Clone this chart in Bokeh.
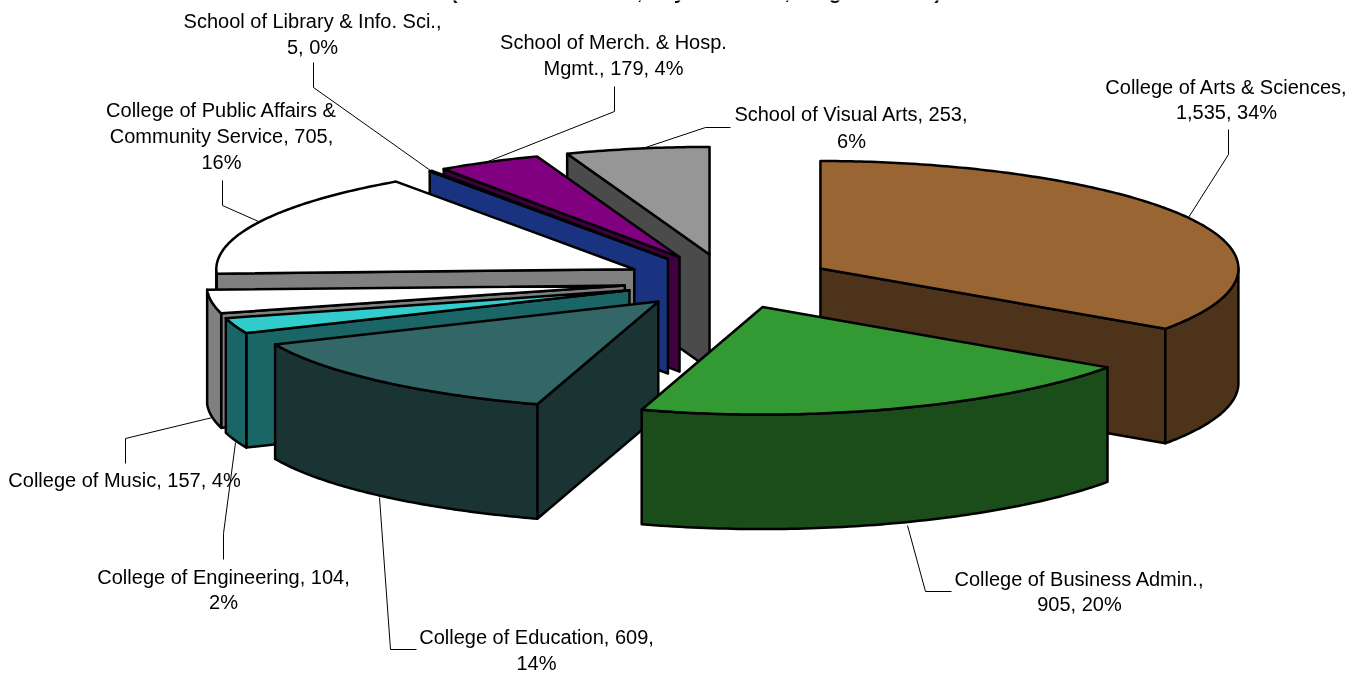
import numpy as np
from bokeh.plotting import figure
from bokeh.models import Range1d, ColumnDataSource
from bokeh.embed import file_html
from bokeh.resources import INLINE
from bokeh.core.properties import value

# ---- data (clockwise from 12 o'clock) ----
names = ["College of Arts & Sciences", "College of Business Admin.", "College of Education",
         "College of Engineering", "College of Music", "College of Public Affairs & Community Service",
         "School of Library & Info. Sci.", "School of Merch. & Hosp. Mgmt.", "School of Visual Arts"]
counts = [1535, 905, 609, 104, 157, 705, 5, 179, 253]
top_colors = ["#996633", "#339933", "#336666", "#33CCCC", "#FFFFFF", "#FFFFFF", "#3366FF", "#800080", "#969696"]
side_colors = ["#4D3319", "#1A4D1A", "#1A3333", "#1A6666", "#808080", "#808080", "#1A3380", "#400040", "#4B4B4B"]
draw_order = [8, 7, 6, 5, 0, 4, 3, 2, 1]

label_lines = [
    ["College of Arts & Sciences,", "1,535, 34%"],
    ["College of Business Admin.,", "905, 20%"],
    ["College of Education, 609,", "14%"],
    ["College of Engineering, 104,", "2%"],
    ["College of Music, 157, 4%"],
    ["College of Public Affairs &", "Community Service, 705,", "16%"],
    ["School of Library & Info. Sci.,", "5, 0%"],
    ["School of Merch. & Hosp.", "Mgmt., 179, 4%"],
    ["School of Visual Arts, 253,", "6%"],
]
title = "(Full-Time Students, Any Year Total, Program Level)"

# ---- layout ----
W, H = 1362, 673
CX, CY = 727.6, 280.8        # pie centre
A, B = 418.0, 107.5          # rim half-axes
RIM_SQUEEZE = 0.033          # small horizontal narrowing of the rim near the vertical axis
DEPTH = 114.5                # extrusion
EX, EY = 104.5, 27.3         # explosion half-axes
label_pos = [(1226, [86, 111]), (1079, [578, 603]), (536, [636, 662]), (223, [576, 601]),
             (124, [479]), (221, [109, 135, 161]), (312, [20, 46]), (613, [41, 67]), (851, [113, 140])]
leaders = [
    [(1228, 129), (1228, 154), (1188, 217)],
    [(951, 591), (925, 591), (907, 525)],
    [(416, 649), (390, 649), (379, 497)],
    [(223, 559), (223, 533), (235, 442)],
    [(125, 463), (125, 438), (212, 417)],
    [(222, 180), (222, 205), (258, 221)],
    [(313, 62), (313, 87), (430, 170)],
    [(614, 86), (614, 111), (485, 162)],
    [(730, 127), (705, 127), (642, 148)],
]
FONT = "Liberation Sans"
FS = "20px"

# ---- geometry derived from the values ----
total = sum(counts)
edges = np.cumsum([0] + counts) / total * 2 * np.pi


def rim(ax, ay, t):
    return ax + A * np.sin(t) * (1 - RIM_SQUEEZE * np.cos(t) ** 4), ay - B * np.cos(t)


fx, fy, fc = [], [], []


def face(xs, ys, c):
    fx.append(list(xs))
    fy.append(list(ys))
    fc.append(c)


for i in draw_order:
    t1, t2 = edges[i], edges[i + 1]
    mid = (t1 + t2) / 2
    ax, ay = CX + EX * np.sin(mid), CY - EY * np.cos(mid)
    # cut faces
    for t, vis in ((t1, np.sin(t1) < -1e-6), (t2, np.sin(t2) > 1e-6)):
        if vis:
            rx, ry = rim(ax, ay, t)
            face([ax, rx, rx, ax], [ay, ry, ry + DEPTH, ay + DEPTH], side_colors[i])
    # outer wall (front half only)
    lo, hi = max(t1, np.pi / 2), min(t2, 3 * np.pi / 2)
    if hi > lo:
        ts = np.linspace(lo, hi, 80)
        rx, ry = rim(ax, ay, ts)
        face(np.r_[rx, rx[::-1]], np.r_[ry, (ry + DEPTH)[::-1]], side_colors[i])
    # top
    ts = np.linspace(t1, t2, max(3, int((t2 - t1) * 80)))
    rx, ry = rim(ax, ay, ts)
    face(np.r_[ax, rx], np.r_[ay, ry], top_colors[i])

# ---- figure ----
p = figure(width=W, height=H, output_backend="svg", toolbar_location=None,
           x_range=Range1d(0, W), y_range=Range1d(H, 0), min_border=0,
           x_axis_location=None, y_axis_location=None, outline_line_color=None,
           background_fill_color="white", border_fill_color="white")
p.xgrid.visible = False
p.ygrid.visible = False
p.styles = {"position": "fixed", "top": "0", "left": "0"}

p.multi_line([[q[0] for q in l] for l in leaders], [[q[1] for q in l] for l in leaders],
             line_color="black", line_width=1)

p.patches("x", "y", fill_color="c", line_color="black", line_width=2.5, line_join="round",
          source=ColumnDataSource(dict(x=fx, y=fy, c=fc)))

tx, ty, tt = [], [], []
for lines, (x, ys) in zip(label_lines, label_pos):
    for s, y in zip(lines, ys):
        tx.append(x)
        ty.append(y)
        tt.append(s)
p.text(tx, ty, text=tt, text_align="center", text_baseline="middle", text_color="black",
       text_font=value(FONT), text_font_size=value(FS))
p.text([696], [-9], text=[title], text_align="center", text_baseline="alphabetic", text_color="black",
       text_font=value(FONT), text_font_size=value("20px"), text_font_style="bold")

open("out.html", "w").write(file_html(p, INLINE))
